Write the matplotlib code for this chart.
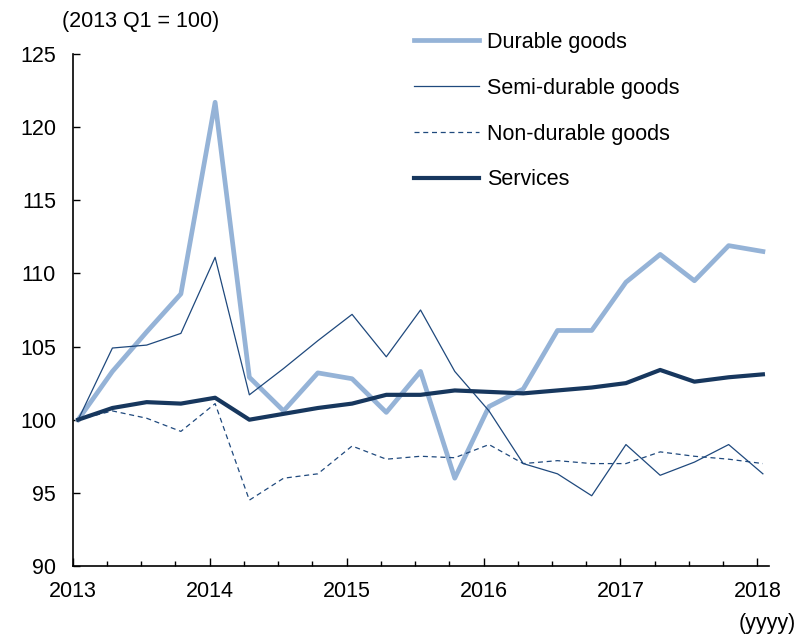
import matplotlib.pyplot as plt
import numpy as np

plt.rcParams['font.family'] = ['Liberation Sans', 'DejaVu Sans']

# quarterly index, 2013 Q1 .. 2018 Q1 (2013 Q1 = 100)
years = ['2013', '2014', '2015', '2016', '2017', '2018']
durable = [100.0, 103.3, 106.0, 108.6, 121.7, 102.9, 100.6, 103.2,
           102.8, 100.5, 103.3, 96.0, 100.9, 102.1, 106.1, 106.1,
           109.4, 111.3, 109.5, 111.9, 111.5]
semi_durable = [100.0, 104.9, 105.1, 105.9, 111.1, 101.7, 103.5, 105.4,
                107.2, 104.3, 107.5, 103.3, 100.6, 97.0, 96.3, 94.8,
                98.3, 96.2, 97.1, 98.3, 96.3]
non_durable = [100.0, 100.6, 100.1, 99.2, 101.1, 94.5, 96.0, 96.3,
               98.2, 97.3, 97.5, 97.4, 98.3, 97.0, 97.2, 97.0,
               97.0, 97.8, 97.5, 97.3, 97.0]
services = [100.0, 100.8, 101.2, 101.1, 101.5, 100.0, 100.4, 100.8,
            101.1, 101.7, 101.7, 102.0, 101.9, 101.8, 102.0, 102.2,
            102.5, 103.4, 102.6, 102.9, 103.1]

x = np.arange(len(durable))
fs = 15.5

fig = plt.figure(figsize=(7.98, 6.36), dpi=100)
ax = fig.add_axes([0.0911, 0.1101, 0.8722, 0.8050])

ax.plot(x, durable, color='#95b3d7', lw=3.4, label='Durable goods')
ax.plot(x, semi_durable, color='#1f497d', lw=0.9, label='Semi-durable goods')
ax.plot(x, non_durable, color='#1f497d', lw=0.9, ls=(0, (4, 3)),
        label='Non-durable goods')
ax.plot(x, services, color='#17375e', lw=3.0, label='Services')

ax.set_xlim(-0.155, 20.17)
ax.set_ylim(90, 125)
ax.set_yticks(range(90, 126, 5))

# tick marks sit slightly left of the data points, as in the source
off = 0.16
ax.set_xticks([4 * i - off for i in range(len(years))])
ax.set_xticklabels(years)
ax.set_xticks([i - off for i in x if i % 4 != 0], minor=True)

for s in ['top', 'right']:
    ax.spines[s].set_visible(False)
for s in ['left', 'bottom']:
    ax.spines[s].set_linewidth(1.2)

ax.tick_params(axis='both', which='both', direction='in', width=1.0,
               labelsize=fs)
ax.tick_params(axis='x', which='major', length=5.5, pad=11)
ax.tick_params(axis='x', which='minor', length=3.5)
ax.tick_params(axis='y', length=5, pad=12)

ax.legend(loc='upper left', bbox_to_anchor=(414 / 798, 1 - 32 / 636),
          bbox_transform=fig.transFigure, frameon=False, fontsize=fs,
          handlelength=3.0, handletextpad=0.4, labelspacing=1.15,
          borderaxespad=0, borderpad=0)

fig.text(62 / 798, 1 - 22 / 636, '(2013 Q1 = 100)', fontsize=fs, va='center')
fig.text(796 / 798, 1 - 624 / 636, '(yyyy)', fontsize=fs, ha='right',
         va='center')

fig.savefig('out.png', dpi=100)
